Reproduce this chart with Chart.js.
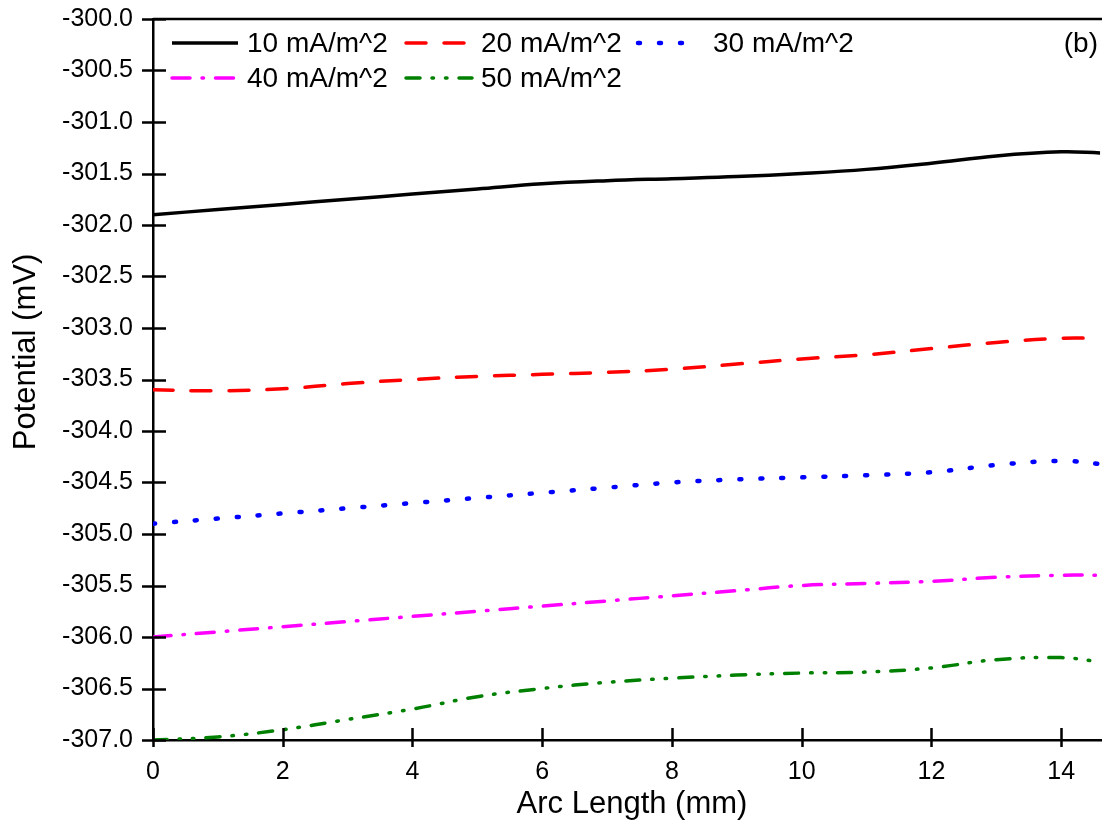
<!DOCTYPE html>
<html>
<head>
<meta charset="utf-8">
<title>Potential vs Arc Length</title>
<script src="https://cdn.jsdelivr.net/npm/chart.js@4.4.1/dist/chart.umd.min.js"></script>
<style>
  html, body { margin: 0; padding: 0; background: #fff; }
  #wrap { width: 1102px; height: 825px; position: relative; }
</style>
</head>
<body>
<div id="wrap"><canvas id="potChart" width="1102" height="825"></canvas></div>
<script>
// ===== data =====
const arcLength = [0, 1, 2, 3, 4, 5, 6, 7, 8, 9, 10, 11, 12, 13, 14, 14.6];

const pot10 = [-301.90, -301.85, -301.80, -301.75, -301.70, -301.65, -301.60, -301.57, -301.55, -301.53, -301.50, -301.46, -301.40, -301.33, -301.29, -301.30];
const pot20 = [-303.60, -303.61, -303.59, -303.54, -303.50, -303.47, -303.45, -303.43, -303.40, -303.35, -303.30, -303.26, -303.20, -303.14, -303.10, -303.10];
const pot30 = [-304.90, -304.85, -304.80, -304.75, -304.70, -304.65, -304.60, -304.55, -304.50, -304.47, -304.45, -304.43, -304.40, -304.33, -304.29, -304.32];
const pot40 = [-306.00, -305.95, -305.90, -305.85, -305.80, -305.75, -305.70, -305.65, -305.60, -305.55, -305.50, -305.48, -305.46, -305.42, -305.40, -305.40];
const pot50 = [-307.00, -306.97, -306.90, -306.80, -306.70, -306.58, -306.50, -306.44, -306.40, -306.37, -306.35, -306.34, -306.30, -306.22, -306.20, -306.24];

const seriesLabels = ['10 mA/m^2', '20 mA/m^2', '30 mA/m^2', '40 mA/m^2', '50 mA/m^2'];
const xTitle = 'Arc Length (mm)';
const yTitle = 'Potential (mV)';
const panelTag = '(b)';

const FONT = "'Liberation Sans', Arial, sans-serif";
Chart.defaults.font.family = FONT;
Chart.defaults.color = '#000';

function pts(ys) {
  return arcLength.map((x, i) => ({ x, y: ys[i] }));
}

function series(label, ys, color, dash, width) {
  return {
    label,
    data: pts(ys),
    borderColor: color,
    backgroundColor: color,
    borderWidth: width || 3.5,
    borderDash: dash,
    borderCapStyle: dash.length ? 'round' : 'butt',
    pointRadius: 0,
    tension: 0.4,
    fill: false
  };
}

// crossing tick marks, top frame line, axis titles
const frameTicks = {
  id: 'frameTicks',
  afterDatasetsDraw(chart) {
    const { ctx, chartArea: a, scales: { x, y } } = chart;
    ctx.save();
    ctx.strokeStyle = '#000';
    ctx.lineWidth = 2.5;
    ctx.beginPath();
    ctx.moveTo(a.left, a.top);
    ctx.lineTo(chart.width, a.top);
    x.ticks.forEach(t => {
      const px = Math.round(x.getPixelForValue(t.value)) + 0.5;
      ctx.moveTo(px, a.bottom - 12);
      ctx.lineTo(px, a.bottom + 7);
    });
    y.ticks.forEach(t => {
      const py = Math.round(y.getPixelForValue(t.value)) + 0.5;
      ctx.moveTo(a.left - 11, py);
      ctx.lineTo(a.left + 13, py);
    });
    ctx.stroke();

    ctx.font = '31px ' + FONT;
    ctx.fillStyle = '#000';
    ctx.textAlign = 'center';
    ctx.textBaseline = 'middle';
    ctx.fillText(xTitle, 632, 804);
    ctx.translate(26, 352);
    ctx.rotate(-Math.PI / 2);
    ctx.fillText(yTitle, 0, 0);
    ctx.restore();
  }
};

// legend drawn inside the plot, two rows of three columns
const innerLegend = {
  id: 'innerLegend',
  afterDraw(chart) {
    const { ctx, chartArea: a } = chart;
    const colX = [172, 406, 638];
    const rowY = [a.top + 24, a.top + 59];
    ctx.save();
    ctx.font = '28px ' + FONT;
    ctx.textBaseline = 'middle';
    chart.data.datasets.forEach((ds, i) => {
      const cx = colX[i % 3];
      const cy = rowY[Math.floor(i / 3)];
      ctx.beginPath();
      ctx.strokeStyle = ds.borderColor;
      ctx.lineWidth = ds.borderWidth;
      ctx.setLineDash(ds.borderDash);
      ctx.lineCap = ds.borderCapStyle;
      ctx.moveTo(cx, cy);
      ctx.lineTo(cx + (i === 2 ? 55 : 66), cy);
      ctx.stroke();
      ctx.setLineDash([]);
      ctx.fillStyle = '#000';
      ctx.textAlign = 'left';
      ctx.fillText(ds.label, cx + 75, cy + 1);
    });
    ctx.textAlign = 'right';
    ctx.fillText(panelTag, chart.width - 4, a.top + 25);
    ctx.restore();
  }
};

new Chart(document.getElementById('potChart'), {
  type: 'line',
  data: {
    datasets: [
      series(seriesLabels[0], pot10, '#000000', []),
      series(seriesLabels[1], pot20, '#ff0000', [20, 18]),
      series(seriesLabels[2], pot30, '#0000ff', [2, 19], 4.5),
      series(seriesLabels[3], pot40, '#ff00ff', [18, 12, 1.5, 12]),
      series(seriesLabels[4], pot50, '#008000', [14, 12, 1.5, 12, 1.5, 12])
    ]
  },
  options: {
    responsive: false,
    animation: false,
    layout: { padding: { top: 19, right: 0, left: 0, bottom: 0 } },
    plugins: { legend: { display: false }, tooltip: { enabled: false } },
    scales: {
      x: {
        type: 'linear',
        min: 0,
        max: 14.63,
        grid: { display: false, drawTicks: false },
        border: { display: true, color: '#000', width: 2.5 },
        ticks: { stepSize: 2, includeBounds: false, padding: 17, font: { size: 25 }, callback: v => String(v) },
        title: { display: false },
        afterFit: s => { s.height = 85; s.paddingLeft = 0; s.paddingRight = 0; }
      },
      y: {
        type: 'linear',
        min: -307,
        max: -300,
        grid: { display: false, drawTicks: false },
        border: { display: true, color: '#000', width: 2.5 },
        ticks: { stepSize: 0.5, includeBounds: false, padding: 20, font: { size: 25 }, callback: v => v.toFixed(1) },
        title: { display: false },
        afterFit: s => { s.width = 153; s.paddingTop = 0; s.paddingBottom = 0; }
      }
    }
  },
  plugins: [frameTicks, innerLegend]
});
</script>
</body>
</html>
